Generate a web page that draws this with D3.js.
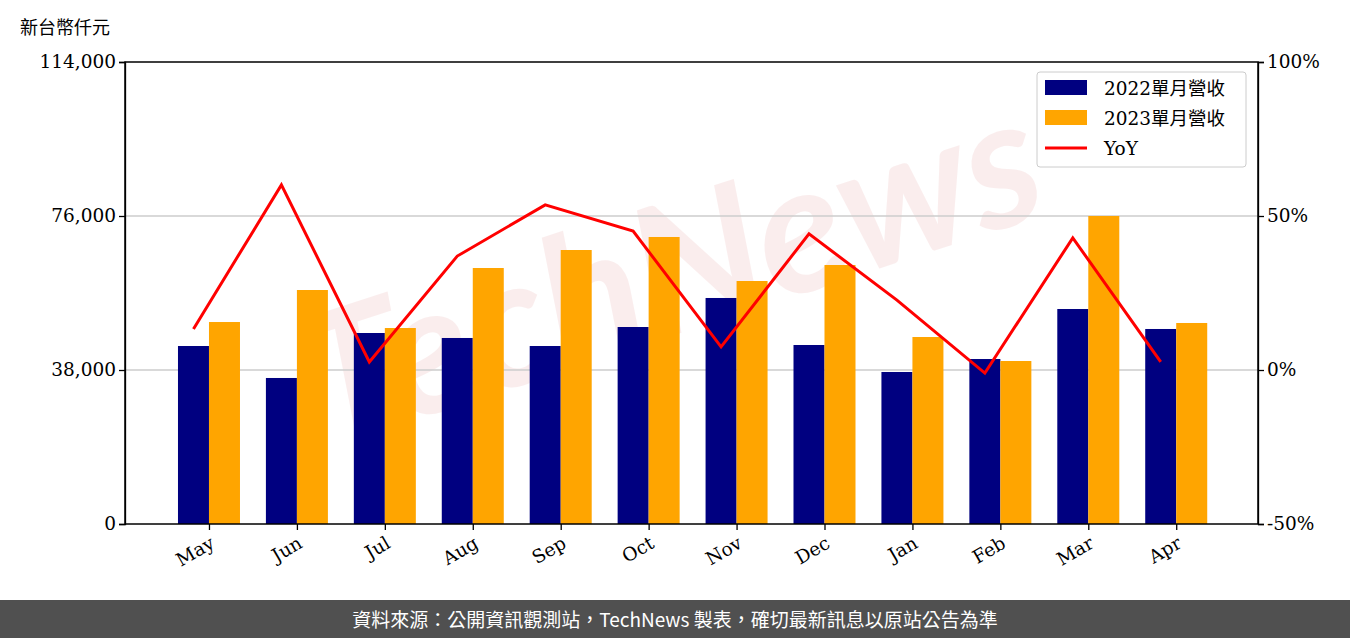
<!DOCTYPE html>
<html><head><meta charset="utf-8">
<script src="https://cdn.jsdelivr.net/npm/d3@7"></script>
<style>body{margin:0;background:#fff}text{font-family:"DejaVu Serif",serif}</style>
</head><body><svg id="c" width="1350" height="638"></svg>
<script>
const months = ["May","Jun","Jul","Aug","Sep","Oct","Nov","Dec","Jan","Feb","Mar","Apr"];
const rev2022 = [43920,36030,47130,45900,43920,48610,55770,44170,37510,40710,53050,48120];
const rev2023 = [49840,57740,48360,63170,67610,70820,59960,63910,46140,40220,76000,49600];
const yoy = [13.3,60.1,2.6,37,53.6,45.1,7.5,44.2,22.7,-1,42.9,2.6];
const leftTicks = [0,38000,76000,114000];
const rightTicks = [-50,0,50,100];

const svg = d3.select("#c");
const L=125,R=1258,T=62,B=524;
const x = d3.scaleLinear().domain([-0.955,11.93]).range([L,R]);
const y = d3.scaleLinear().domain([0,114000]).range([B,T]);
const y2 = d3.scaleLinear().domain([-50,100]).range([B,T]);
const bw = 31;

// watermark
svg.append("text").attr("x",690).attr("y",330).attr("text-anchor","middle")
  .attr("transform","rotate(-18,690,330)")
  .style("font-family","Lato,sans-serif").style("font-style","italic").style("font-weight","bold")
  .style("font-size","180px").attr("fill","#e8a0a0").attr("opacity",0.18).text("TechNews");

// grid
svg.selectAll(".g").data(leftTicks.slice(1,3)).join("line")
  .attr("x1",L).attr("x2",R).attr("y1",d=>y(d)).attr("y2",d=>y(d)).attr("stroke","#ccc").attr("stroke-width",1.3);

svg.selectAll(".b1").data(rev2022).join("rect")
  .attr("x",(d,i)=>x(i)-bw).attr("width",bw).attr("y",d=>y(d)).attr("height",d=>B-y(d)).attr("fill","#000080");
svg.selectAll(".b2").data(rev2023).join("rect")
  .attr("x",(d,i)=>x(i)).attr("width",bw).attr("y",d=>y(d)).attr("height",d=>B-y(d)).attr("fill","#FFA500");

svg.append("path").datum(yoy).attr("fill","none").attr("stroke","#ff0000").attr("stroke-width",3)
  .attr("d",d3.line().x((d,i)=>x(i)-bw/2).y(d=>y2(d)));

const fmt = d3.format(",");
const ax1 = svg.append("g").attr("transform",`translate(${L},0)`)
  .call(d3.axisLeft(y).tickValues(leftTicks).tickFormat(fmt).tickSizeOuter(0).tickSize(6));
const ax2 = svg.append("g").attr("transform",`translate(${R},0)`)
  .call(d3.axisRight(y2).tickValues(rightTicks).tickFormat(d=>d+"%").tickSizeOuter(0).tickSize(6));
const ax3 = svg.append("g").attr("transform",`translate(0,${B})`)
  .call(d3.axisBottom(x).tickValues(d3.range(12)).tickFormat(i=>months[i]).tickSizeOuter(0).tickSize(6));
ax3.selectAll(".tick text").attr("text-anchor","end").attr("x",-6).attr("y",10).attr("dy","0.7em")
  .attr("transform","rotate(-30)");
[ax1,ax2,ax3].forEach(a=>{a.selectAll("text").style("font-family","DejaVu Serif").style("font-size","18.5px").attr("fill","#000");
  a.selectAll("line,path").attr("stroke","#000").attr("stroke-width",1.3);});
ax3.select(".domain").remove();
svg.append("rect").attr("x",L).attr("y",T).attr("width",R-L).attr("height",B-T).attr("fill","none").attr("stroke","#000").attr("stroke-width",1.5);

svg.append("text").attr("x",20).attr("y",34).style("font-family","Noto Sans CJK TC").style("font-size","18px").text("新台幣仟元");

// legend
const lg = svg.append("g");
lg.append("rect").attr("x",1037).attr("y",72).attr("width",209).attr("height",95).attr("rx",3)
  .attr("fill","#fff").attr("fill-opacity",0.8).attr("stroke","#ccc");
const items=[["2022單月營收","#000080","bar"],["2023單月營收","#FFA500","bar"],["YoY","#ff0000","line"]];
items.forEach((it,i)=>{
  const cy=88+i*30;
  if(it[2]=="bar") lg.append("rect").attr("x",1045).attr("y",cy-8).attr("width",42).attr("height",15).attr("fill",it[1]);
  else lg.append("line").attr("x1",1045).attr("x2",1087).attr("y1",cy).attr("y2",cy).attr("stroke",it[1]).attr("stroke-width",3);
  lg.append("text").attr("x",1104).attr("y",cy+7).style("font-family","DejaVu Serif, Noto Sans CJK TC").style("font-size","18.5px").text(it[0]);
});

svg.append("rect").attr("x",0).attr("y",600).attr("width",1350).attr("height",38).attr("fill","#505050");
svg.append("text").attr("x",675).attr("y",627).attr("text-anchor","middle").attr("fill","#fff")
  .style("font-family","Noto Sans CJK TC").style("font-size","19px")
  .text("資料來源：公開資訊觀測站，TechNews 製表，確切最新訊息以原站公告為準");
</script></body></html>
